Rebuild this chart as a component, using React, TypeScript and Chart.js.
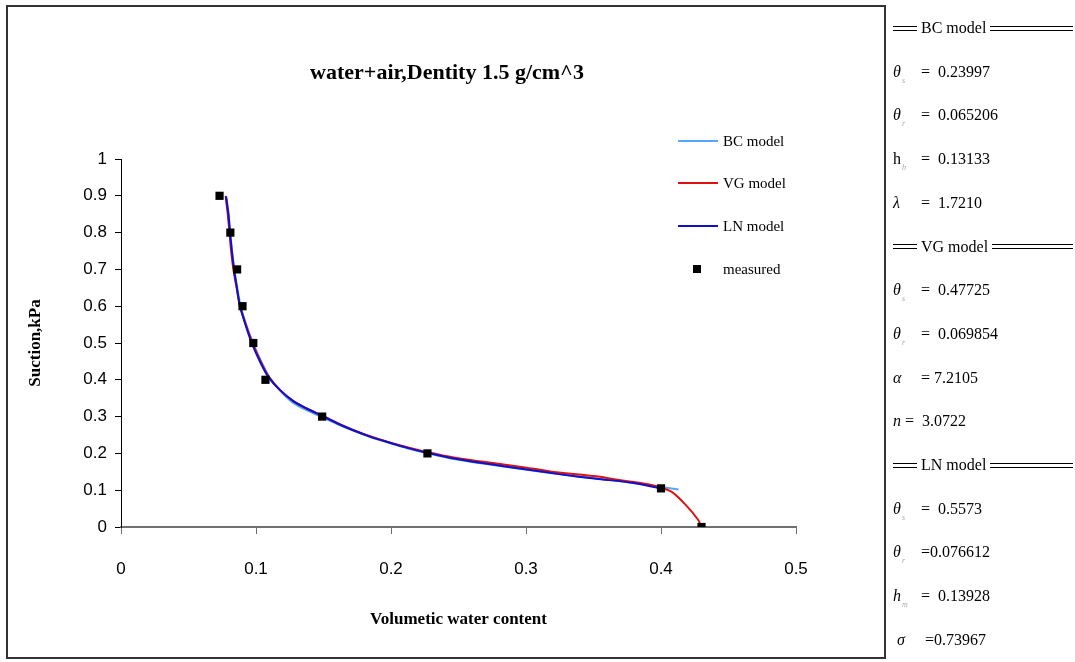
import React, { useEffect, useRef } from "react";
import { Chart, registerables } from "chart.js";

Chart.register(...registerables);

// Axis ticks
const xTicks = [0, 0.1, 0.2, 0.3, 0.4, 0.5];
const yTicks = [0, 0.1, 0.2, 0.3, 0.4, 0.5, 0.6, 0.7, 0.8, 0.9, 1];

// Measured points (volumetric water content vs suction, kPa)
const measuredTheta = [0.073, 0.081, 0.086, 0.09, 0.098, 0.107, 0.149, 0.227, 0.4, 0.43];
const measuredSuction = [0.9, 0.8, 0.7, 0.6, 0.5, 0.4, 0.3, 0.2, 0.105, 0.0];

// LN model curve
const lnTheta = [0.0778, 0.0795, 0.0807, 0.082, 0.0837, 0.0857, 0.0881, 0.0919, 0.0968, 0.103, 0.1091, 0.1178, 0.1276, 0.1375, 0.149, 0.16, 0.172, 0.185, 0.199, 0.212, 0.2265, 0.2464, 0.2728, 0.2993, 0.3257, 0.3521, 0.3786, 0.3998];
const lnSuction = [0.898, 0.852, 0.802, 0.753, 0.701, 0.653, 0.601, 0.553, 0.5, 0.449, 0.408, 0.372, 0.342, 0.322, 0.302, 0.282, 0.263, 0.245, 0.229, 0.215, 0.202, 0.186, 0.171, 0.157, 0.143, 0.131, 0.12, 0.105];

// VG model curve
const vgTheta = [0.0775, 0.079, 0.0803, 0.0815, 0.0832, 0.0855, 0.088, 0.0922, 0.0975, 0.1035, 0.1095, 0.118, 0.1278, 0.1375, 0.149, 0.16, 0.172, 0.185, 0.199, 0.212, 0.2265, 0.2464, 0.2728, 0.2993, 0.3178, 0.3521, 0.365, 0.384, 0.397, 0.4077, 0.4183, 0.4276, 0.4294];
const vgSuction = [0.9, 0.852, 0.802, 0.753, 0.701, 0.653, 0.601, 0.553, 0.5, 0.449, 0.408, 0.372, 0.342, 0.322, 0.303, 0.283, 0.264, 0.246, 0.23, 0.217, 0.204, 0.189, 0.175, 0.162, 0.151, 0.138, 0.13, 0.12, 0.11, 0.096, 0.06, 0.019, 0.004];

// BC model curve
const bcTheta = [0.078, 0.0797, 0.0809, 0.0822, 0.0839, 0.086, 0.0885, 0.0925, 0.0978, 0.104, 0.1098, 0.118, 0.1272, 0.137, 0.148, 0.16, 0.172, 0.185, 0.199, 0.212, 0.2265, 0.2464, 0.2728, 0.2993, 0.3257, 0.3521, 0.3707, 0.39, 0.413];
const bcSuction = [0.898, 0.852, 0.802, 0.753, 0.701, 0.653, 0.601, 0.553, 0.5, 0.449, 0.408, 0.37, 0.338, 0.318, 0.3, 0.28, 0.262, 0.244, 0.228, 0.214, 0.201, 0.185, 0.17, 0.156, 0.143, 0.132, 0.124, 0.114, 0.102];

const seriesNames = ["BC model", "VG model", "LN model", "measured"];
const seriesColors = ["#55a8f8", "#e01010", "#1010c8", "#000000"];

const titleText = "water+air,Dentity 1.5 g/cm^3";
const xTitle = "Volumetic water content";
const yTitle = "Suction,kPa";

// Parameter panel
const panelRows: { kind: string; sym?: string; sub?: string; text: string; italic?: boolean }[] = [
  { kind: "head", text: "BC model" },
  { kind: "row", sym: "θ", sub: "s", text: " =  0.23997", italic: true },
  { kind: "row", sym: "θ", sub: "r", text: " =  0.065206", italic: true },
  { kind: "row", sym: "h", sub: "b", text: " =  0.13133" },
  { kind: "row", sym: "λ", sub: "", text: " =  1.7210", italic: true },
  { kind: "head", text: "VG model" },
  { kind: "row", sym: "θ", sub: "s", text: " =  0.47725", italic: true },
  { kind: "row", sym: "θ", sub: "r", text: " =  0.069854", italic: true },
  { kind: "row", sym: "α", sub: "", text: " = 7.2105", italic: true },
  { kind: "rowN", sym: "n", sub: "", text: "=  3.0722", italic: true },
  { kind: "head", text: "LN model" },
  { kind: "row", sym: "θ", sub: "s", text: " =  0.5573", italic: true },
  { kind: "row", sym: "θ", sub: "r", text: " =0.076612", italic: true },
  { kind: "row", sym: "h", sub: "m", text: " =  0.13928", italic: true },
  { kind: "rowS", sym: "σ", sub: "", text: " =0.73967", italic: true },
];

const toPts = (xs: number[], ys: number[]) => xs.map((x, i) => ({ x, y: ys[i] }));

function ChartCanvas() {
  const ref = useRef<HTMLCanvasElement | null>(null);
  useEffect(() => {
    if (!ref.current) return;
    const lineDs = (i: number, xs: number[], ys: number[], order: number) => ({
      label: seriesNames[i],
      data: toPts(xs, ys),
      showLine: true,
      borderColor: seriesColors[i],
      backgroundColor: seriesColors[i],
      borderWidth: 2,
      pointRadius: 0,
      tension: 0.25,
      order,
    });
    const chart = new Chart(ref.current, {
      type: "scatter",
      data: {
        datasets: [
          lineDs(0, bcTheta, bcSuction, 3),
          lineDs(1, vgTheta, vgSuction, 2),
          lineDs(2, lnTheta, lnSuction, 1),
          {
            label: seriesNames[3],
            data: toPts(measuredTheta, measuredSuction),
            showLine: false,
            pointStyle: "rect",
            pointRadius: 5.8,
            pointBorderWidth: 0,
            backgroundColor: "#000",
            borderColor: "#000",
            order: 0,
          } as any,
        ],
      },
      options: {
        animation: false,
        responsive: false,
        maintainAspectRatio: false,
        layout: { padding: { left: 22, top: 159, right: 279, bottom: 0 } },
        plugins: {
          legend: { display: false },
          title: { display: false },
          tooltip: { enabled: false },
        },
        scales: {
          x: {
            type: "linear",
            min: xTicks[0],
            max: xTicks[xTicks.length - 1],
            afterBuildTicks: (s: any) => {
              s.ticks = xTicks.map((v) => ({ value: v }));
            },
            afterFit: (s: any) => {
              s.height = 135;
            },
            ticks: {
              color: "#000",
              font: { family: "'Liberation Sans', Arial, sans-serif", size: 17 },
              padding: 25,
              maxRotation: 0,
              callback: (v: any) => String(Math.round(Number(v) * 10) / 10),
            },
            grid: { drawOnChartArea: false, drawTicks: true, tickLength: 7, color: "#707070", lineWidth: 1 },
            border: { display: true, color: "#707070", width: 2 },
            title: {
              display: true,
              text: xTitle,
              color: "#000",
              font: { family: "'Liberation Serif', 'Times New Roman', serif", size: 17, weight: "bold" },
              padding: { top: 0, bottom: 32 },
            },
          },
          y: {
            type: "linear",
            min: yTicks[0],
            max: yTicks[yTicks.length - 1],
            afterBuildTicks: (s: any) => {
              s.ticks = yTicks.map((v) => ({ value: v }));
            },
            afterFit: (s: any) => {
              s.width = 99;
            },
            ticks: {
              color: "#000",
              font: { family: "'Liberation Sans', Arial, sans-serif", size: 17 },
              padding: 8,
              callback: (v: any) => String(Math.round(Number(v) * 10) / 10),
            },
            grid: { drawOnChartArea: false, drawTicks: true, tickLength: 6, color: "#000", lineWidth: 1 },
            border: { display: true, color: "#000", width: 1 },
            title: {
              display: true,
              text: yTitle,
              color: "#000",
              font: { family: "'Liberation Serif', 'Times New Roman', serif", size: 17, weight: "bold" },
              padding: { top: 3, bottom: 0 },
            },
          },
        },
      } as any,
    });
    return () => chart.destroy();
  }, []);
  return (
    <canvas
      ref={ref}
      width={1075}
      height={662}
      style={{ position: "absolute", left: 0, top: 0, width: 1075, height: 662 }}
    />
  );
}

function DoubleRule({ width, flex }: { width?: number; flex?: boolean }) {
  return (
    <span
      style={{
        display: "inline-block",
        width: width,
        flex: flex ? "1 1 auto" : "0 0 auto",
        height: 3,
        borderTop: "1px solid #000",
        borderBottom: "1px solid #000",
      }}
    />
  );
}

function Legend() {
  const ys = [141, 183, 226, 269];
  return (
    <>
      {seriesNames.map((n, i) => (
        <div key={n}>
          {i < 3 ? (
            <div
              style={{
                position: "absolute",
                left: 678,
                top: ys[i] - 1,
                width: 40,
                height: 2,
                background: seriesColors[i],
              }}
            />
          ) : (
            <div
              style={{ position: "absolute", left: 693, top: ys[i] - 4, width: 8, height: 8, background: "#000" }}
            />
          )}
          <div
            style={{
              position: "absolute",
              left: 723,
              top: ys[i] - 10,
              height: 20,
              lineHeight: "20px",
              fontFamily: "'Liberation Serif', 'Times New Roman', serif",
              fontSize: 15,
              color: "#000",
              whiteSpace: "nowrap",
            }}
          >
            {n}
          </div>
        </div>
      ))}
    </>
  );
}

function Panel() {
  const font = "'Liberation Serif', 'Times New Roman', serif";
  return (
    <>
      {panelRows.map((r, i) => {
        const cy = 28 + i * 43.7;
        if (r.kind === "head") {
          return (
            <div
              key={i}
              style={{
                position: "absolute",
                left: 893,
                top: cy - 10,
                width: 180,
                height: 20,
                display: "flex",
                alignItems: "center",
                fontFamily: font,
                fontSize: 16,
                whiteSpace: "nowrap",
              }}
            >
              <DoubleRule width={24} />
              <span style={{ padding: "0 4px" }}>{r.text}</span>
              <DoubleRule flex />
            </div>
          );
        }
        const symLeft = r.kind === "rowS" ? 897 : 893;
        const symW = r.kind === "rowN" ? 12 : 24;
        return (
          <div
            key={i}
            style={{
              position: "absolute",
              left: symLeft,
              top: cy - 10,
              height: 20,
              lineHeight: "20px",
              fontFamily: font,
              fontSize: 16,
              whiteSpace: "nowrap",
              display: "flex",
            }}
          >
            <span style={{ display: "inline-block", width: symW, position: "relative" }}>
              <span style={{ fontStyle: r.italic ? "italic" : "normal" }}>{r.sym}</span>
              {r.sub ? (
                <span style={{ position: "absolute", left: 9, top: 9, fontSize: 8, color: "#aaa", fontStyle: "italic" }}>
                  {r.sub}
                </span>
              ) : null}
            </span>
            <span style={{ whiteSpace: "pre" }}>{r.text}</span>
          </div>
        );
      })}
    </>
  );
}

export default function App() {
  return (
    <div style={{ position: "absolute", left: 0, top: 0, width: 1075, height: 662, background: "#fff", overflow: "hidden" }}>
      <ChartCanvas />
      <div
        style={{
          position: "absolute",
          left: 6,
          top: 5,
          width: 880,
          height: 654,
          border: "2px solid #333",
          boxSizing: "border-box",
          pointerEvents: "none",
        }}
      />
      <div
        style={{
          position: "absolute",
          left: 247,
          top: 59,
          width: 400,
          textAlign: "center",
          fontFamily: "'Liberation Serif', 'Times New Roman', serif",
          fontWeight: "bold",
          fontSize: 22,
          lineHeight: "26px",
          color: "#000",
          whiteSpace: "nowrap",
        }}
      >
        {titleText}
      </div>
      <Legend />
      <Panel />
    </div>
  );
}
